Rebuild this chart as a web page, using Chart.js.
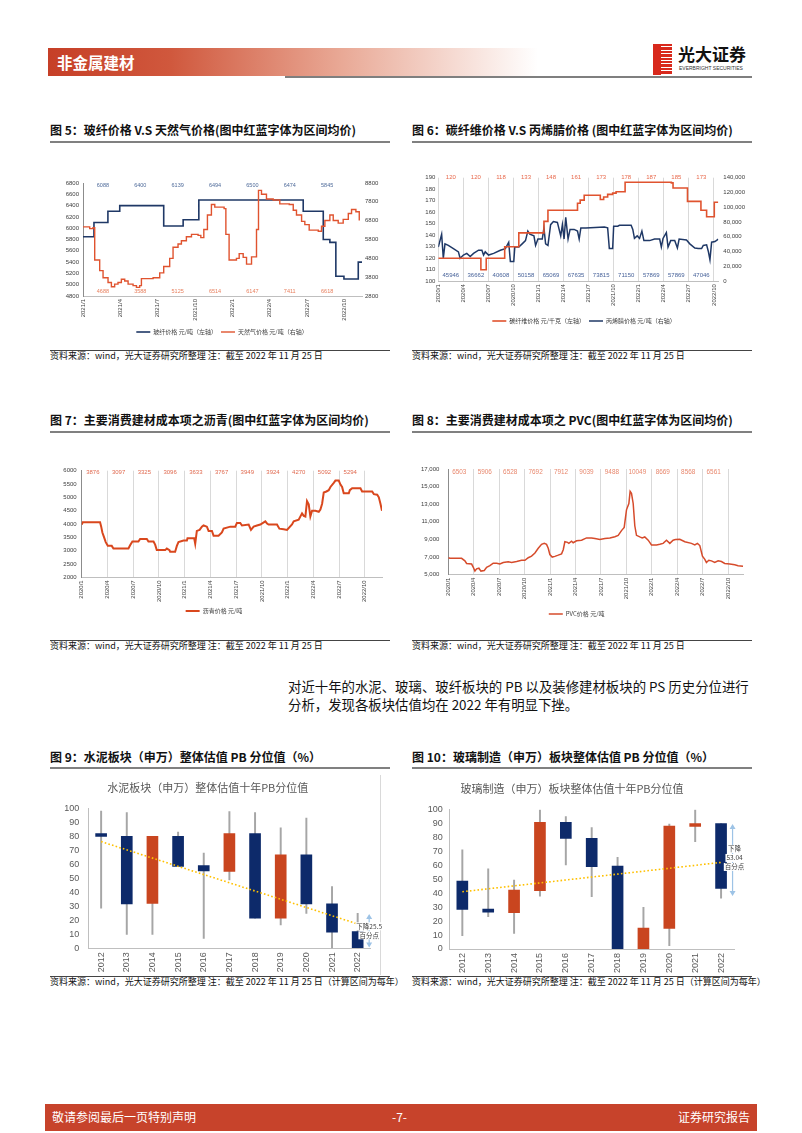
<!DOCTYPE html>
<html>
<head>
<meta charset="utf-8">
<script src="https://cdn.jsdelivr.net/npm/chart.js@4.4.0/dist/chart.umd.min.js"></script>
<style>
  body { margin: 0; width: 802px; height: 1133px; position: relative; background: #fff; overflow: hidden;
         font-family: "Noto Sans CJK SC", sans-serif; color: #111; }
  .abs { position: absolute; }
  .ftitle { font-size: 12px; font-weight: bold; line-height: 16px; white-space: nowrap; }
  .uline { height: 1.5px; background: #808080; }
  .sline { height: 1px; background: #444; }
  .src { font-size: 9px; line-height: 12px; white-space: nowrap; color: #111; }
  canvas { position: absolute; }
</style>
</head>
<body>
<!-- header -->
<div class="abs" style="left:48px;top:48px;width:490px;height:28px;background:linear-gradient(90deg,#c63f27 0%,#d0583d 25%,#e9a996 60%,#fff 100%)"></div>
<div class="abs" style="left:57px;top:51px;font-size:15.5px;font-weight:bold;color:#fff;line-height:22px">非金属建材</div>
<div class="abs" style="left:285px;top:76px;width:467px;height:2px;background:#7f7f7f"></div>
<div class="abs" style="left:653px;top:44px;width:19px;height:31px;background:repeating-linear-gradient(180deg,#d8291c 0 2.4px,#fff 2.4px 3.4px)"></div>
<div class="abs" style="left:653px;top:44px;width:8px;height:31px;background:#d8291c"></div>
<div class="abs" style="left:678px;top:43px;font-size:17px;font-weight:bold;line-height:22px;color:#111">光大证券</div>
<div class="abs" style="left:679px;top:65px;font-size:5px;line-height:6px;color:#333;font-family:'Liberation Sans'">EVERBRIGHT SECURITIES</div>

<!-- figure titles -->
<div class="abs ftitle" style="left:50px;top:122px">图 5：玻纤价格 V.S 天然气价格(图中红蓝字体为区间均价)</div>
<div class="abs uline" style="left:50px;top:141px;width:340px"></div>
<div class="abs ftitle" style="left:412px;top:122px">图 6：碳纤维价格 V.S 丙烯腈价格 (图中红蓝字体为区间均价)</div>
<div class="abs uline" style="left:412px;top:141px;width:340px"></div>

<div class="abs ftitle" style="left:50px;top:412px">图 7：主要消费建材成本项之沥青(图中红蓝字体为区间均价)</div>
<div class="abs uline" style="left:50px;top:431px;width:340px"></div>
<div class="abs ftitle" style="left:412px;top:412px">图 8：主要消费建材成本项之 PVC(图中红蓝字体为区间均价)</div>
<div class="abs uline" style="left:412px;top:431px;width:340px"></div>

<div class="abs ftitle" style="left:50px;top:749px">图 9：水泥板块（申万）整体估值 PB 分位值（%）</div>
<div class="abs uline" style="left:50px;top:767px;width:340px"></div>
<div class="abs ftitle" style="left:412px;top:749px">图 10：玻璃制造（申万）板块整体估值 PB 分位值（%）</div>
<div class="abs uline" style="left:412px;top:767px;width:340px"></div>

<!-- sources -->
<div class="abs sline" style="left:50px;top:350px;width:340px"></div>
<div class="abs src" style="left:50px;top:350px">资料来源：wind，光大证券研究所整理 注：截至 2022 年 11 月 25 日</div>
<div class="abs sline" style="left:412px;top:350px;width:340px"></div>
<div class="abs src" style="left:412px;top:350px">资料来源：wind，光大证券研究所整理 注：截至 2022 年 11 月 25 日</div>
<div class="abs sline" style="left:50px;top:640px;width:340px"></div>
<div class="abs src" style="left:50px;top:640px">资料来源：wind，光大证券研究所整理 注：截至 2022 年 11 月 25 日</div>
<div class="abs sline" style="left:412px;top:640px;width:340px"></div>
<div class="abs src" style="left:412px;top:640px">资料来源：wind，光大证券研究所整理 注：截至 2022 年 11 月 25 日</div>
<div class="abs sline" style="left:50px;top:976px;width:340px"></div>
<div class="abs src" style="left:50px;top:976px">资料来源：wind，光大证券研究所整理 注：截至 2022 年 11 月 25 日（计算区间为每年）</div>
<div class="abs sline" style="left:412px;top:976px;width:340px"></div>
<div class="abs src" style="left:412px;top:976px">资料来源：wind，光大证券研究所整理 注：截至 2022 年 11 月 25 日（计算区间为每年）</div>

<!-- paragraph -->
<div class="abs" style="left:288px;top:677px;font-size:13.4px;line-height:18px;color:#111;white-space:nowrap">对近十年的水泥、玻璃、玻纤板块的 PB 以及装修建材板块的 PS 历史分位进行<br>分析，发现各板块估值均在 2022 年有明显下挫。</div>

<!-- chart frame of fig 9 -->
<div class="abs" style="left:380px;top:775px;width:1px;height:200px;background:#d9d9d9"></div>

<canvas id="c5" width="352" height="178" style="left:46px;top:172px"></canvas>
<canvas id="c6" width="348" height="173" style="left:410px;top:165px"></canvas>
<canvas id="c7" width="345" height="175" style="left:46px;top:455px"></canvas>
<canvas id="c8" width="348" height="175" style="left:410px;top:455px"></canvas>
<canvas id="c9" width="338" height="200" style="left:45px;top:775px"></canvas>
<canvas id="c10" width="340" height="200" style="left:410px;top:775px"></canvas>

<!-- footer -->
<div class="abs" style="left:45px;top:1104px;width:712px;height:27px;background:#c7432b"></div>
<div class="abs" style="left:52px;top:1108px;font-size:12px;line-height:18px;color:#fff">敬请参阅最后一页特别声明</div>
<div class="abs" style="left:392px;top:1108px;font-size:12px;line-height:18px;color:#fff">-7-</div>
<div class="abs" style="left:678px;top:1108px;font-size:12px;line-height:18px;color:#fff">证券研究报告</div>

<script>
// ---------- data: 图5 玻纤 vs 天然气 (x = months since 2021/1) ----------
const fig5Ticks = ['2021/1', '2021/4', '2021/7', '2021/10', '2022/1', '2022/4', '2022/7', '2022/10'];
const gfMonth = [0, 0.88, 2.0, 2.95, 6.48, 8.04, 9.3, 17.68, 19.29, 19.82, 20.3, 20.95, 22.1, 22.4];
const gfPrice = [5850, 6100, 6300, 6400, 6040, 6150, 6500, 6300, 5800, 5750, 5150, 5100, 5400, 5400];
const gasMonth = [0, 0.54, 0.8, 0.94, 1.34, 1.61, 2.01, 2.28, 2.54, 2.81, 3.08, 3.35, 3.62, 4.02, 4.29, 4.55,
  4.69, 5.63, 6.16, 6.48, 6.96, 7.23, 7.63, 7.9, 8.3, 8.71, 9.24, 9.46, 9.7, 9.99, 10.31, 10.58, 11.33, 11.47,
  11.73, 12.32, 12.54, 12.86, 13.13, 13.39, 13.53, 13.8, 13.93, 14.09, 14.33, 14.73, 15.27, 15.8, 16.56, 16.88,
  17.14, 17.55, 17.81, 18.16, 18.89, 19.15, 19.42, 19.82, 20.09, 20.49, 20.89, 21.3, 21.56, 21.91, 22.18];
const gasPrice = [6470, 6380, 6420, 4710, 4150, 3770, 3520, 3290, 3430, 3520, 3690, 3600, 3430, 3350, 3260, 3350,
  3720, 3770, 4030, 4370, 4800, 5390, 5560, 5730, 5950, 6070, 6020, 5900, 6330, 7100, 7660, 7520, 7440, 6070,
  4710, 4800, 5050, 4850, 4490, 4490, 4880, 4880, 6330, 8410, 8200, 7950, 7900, 7690, 7660, 7350,
  7100, 6760, 6590, 6300, 6240, 6500, 6810, 7100, 6810, 6670, 6870, 7180, 7390, 7270, 6810];
const fig5GfAvg = ['6088', '6400', '6139', '6494', '6500', '6474', '5845'];
const fig5GasAvg = ['4688', '3588', '5125', '6514', '6147', '7411', '6618'];

// ---------- data: 图6 碳纤维 vs 丙烯腈 (x = months since 2020/1) ----------
const fig6Ticks = ['2020/1', '2020/4', '2020/7', '2020/10', '2021/1', '2021/4', '2021/7', '2021/10', '2022/1', '2022/4', '2022/7', '2022/10'];
const cfMonth = [0, 5.1, 5.74, 7.95, 9.64, 12.65, 13.13, 16.67, 16.99, 17.47, 19.4, 19.8, 20.28, 20.88, 21.29, 22.37, 27.91, 28.11, 29.84, 31.45, 32.13, 33.05, 33.53];
const cfPrice = [120, 110, 120, 130, 142, 152, 161.7, 167.8, 170.5, 174.7, 171, 173.2, 175.5, 176.6, 177.8, 186, 185.5, 181, 169.4, 161.7, 156, 168.6, 168.6];
const acnMonth = [0, 0.4, 0.6, 0.8, 1.2, 1.81, 2.41, 2.61, 3.01, 3.41, 3.82, 4.22, 4.82, 5.22, 5.42, 5.62, 6.02, 6.63,
  7.43, 8.03, 8.43, 8.63, 9.04, 9.16, 9.64, 10.04, 10.44, 10.72, 10.96, 11.45, 11.65, 11.93, 12.45, 12.65, 12.85,
  13.13, 13.45, 13.78, 14.26, 14.66, 14.86, 15.06, 15.26, 15.54, 15.78, 16.27, 16.67, 16.87, 17.07, 17.67, 19.88,
  20.28, 20.48, 20.88, 21.0, 21.49, 21.69, 23.09, 23.29, 23.49, 23.82, 24.1, 24.38, 24.62, 25.3, 25.9, 26.51,
  26.71, 26.91, 27.31, 27.51, 27.83, 28.31, 28.63, 28.84, 29.72, 30.12, 30.72, 31.12, 31.53, 31.73, 32.13, 32.33,
  32.53, 32.73, 33.13, 33.53];
const acnPrice = [46200, 63500, 31100, 50500, 48400, 44100, 39700, 31100, 35400, 37600, 33300, 37600, 41900, 41900,
  35400, 39700, 35400, 37600, 41900, 44100, 52700, 26800, 26800, 46200, 46200, 50500, 54900, 67800, 63500, 61300,
  48400, 57000, 57000, 72100, 50500, 48400, 76500, 80800, 79500, 61300, 76500, 57000, 86400, 57000, 70000, 70000,
  67800, 57000, 72100, 72100, 73400, 72100, 44100, 44100, 74300, 74300, 75600, 75600, 70000, 57900, 61300, 57900,
  67800, 54900, 54900, 57000, 57000, 46200, 57900, 65700, 46200, 54900, 54900, 44900, 57000, 55700, 50500, 44900,
  44100, 44100, 48400, 49200, 40600, 28900, 52700, 53600, 57000];
const fig6CfAvg = ['120', '120', '118', '133', '148', '161', '173', '178', '187', '185', '173'];
const fig6AcnAvg = ['45946', '36662', '40608', '50158', '65069', '67635', '73815', '71150', '57869', '57869', '47046'];

// ---------- data: 图7 沥青 ----------
const fig7Ticks = fig6Ticks;
const asphaltMonth = [0, 0.12, 2.14, 2.26, 2.41, 2.61, 2.8, 3.04, 3.5, 3.7, 5.45, 5.64, 5.91, 6.61, 6.81, 7.59, 7.78,
  8.37, 8.56, 8.75, 9.73, 9.92, 10.23, 10.31, 10.89, 11.09, 11.28, 11.87, 12.26, 12.33, 13.11, 13.23, 13.42, 13.74,
  14.01, 14.2, 14.59, 14.79, 15.18, 15.37, 15.95, 16.34, 16.54, 17.32, 17.9, 18.09, 18.48, 18.68, 19.46, 19.73,
  20.04, 20.43, 20.82, 21.4, 21.6, 21.79, 22.76, 23.04, 23.54, 23.93, 24.51, 24.71, 25.29, 25.68, 25.88, 26.07,
  26.26, 26.46, 26.65, 26.85, 27.24, 27.63, 27.82, 28.02, 28.21, 28.52, 28.79, 28.99, 29.38, 29.57, 29.96, 30.16,
  30.35, 30.54, 31.13, 31.25, 31.52, 32.49, 32.68, 33.85, 34.05, 34.44, 34.63, 34.82, 35.0];
const asphaltPrice = [3980, 4065, 4065, 3920, 3680, 3500, 3320, 3180, 3180, 3080, 3080, 3200, 3345, 3345, 3440, 3440,
  3345, 3345, 3225, 3020, 3020, 3080, 3020, 2960, 2960, 3180, 3320, 3380, 3380, 3465, 3465, 3260, 3740, 3780, 3900,
  3945, 3900, 3740, 3740, 3560, 3560, 3680, 3825, 3900, 3900, 4040, 4040, 3945, 3980, 3780, 3900, 3945, 3980, 4100,
  4020, 3980, 3980, 3825, 3800, 3780, 3980, 4100, 4160, 4400, 4305, 4280, 4860, 4740, 4280, 4500, 4500, 4460, 4545,
  4760, 5180, 5220, 5270, 5390, 5545, 5630, 5630, 5480, 5390, 5150, 5150, 5270, 5340, 5340, 5220, 5220, 5120, 5100,
  5000, 4760, 4500];
const fig7Avg = ['3876', '3097', '3325', '3096', '3633', '3767', '3949', '3924', '4270', '5092', '5294'];

// ---------- data: 图8 PVC ----------
const fig8Ticks = fig6Ticks;
const pvcMonth = [0, 0.2, 1.57, 1.96, 2.16, 2.75, 2.95, 3.14, 3.34, 3.61, 3.85, 4.24, 4.52, 4.91, 5.3, 5.7, 6.09, 6.48,
  7.07, 7.47, 8.06, 8.64, 9.04, 9.43, 9.82, 10.22, 10.61, 11.0, 11.32, 11.59, 11.79, 11.98, 12.26, 12.57, 12.97,
  13.36, 13.56, 13.75, 14.07, 14.22, 14.54, 14.73, 15.13, 15.72, 16.31, 16.9, 17.29, 17.88, 18.47, 19.06, 19.65,
  20.04, 20.43, 20.75, 21.02, 21.3, 21.45, 21.61, 21.81, 22.0, 22.2, 22.59, 22.87, 23.18, 23.58, 23.97, 24.56,
  24.95, 25.34, 25.74, 26.13, 26.52, 26.8, 27.31, 27.9, 28.68, 29.08, 29.39, 29.67, 29.98, 30.26, 30.45, 30.73,
  31.04, 31.43, 31.83, 32.22, 32.61, 33.2, 33.79, 34.18, 34.77];
const pvcPrice = [6920, 6850, 6850, 6560, 6270, 6200, 5830, 5400, 5650, 5725, 5400, 5470, 5830, 6015, 6300, 6300, 6200,
  6380, 6450, 6380, 6490, 6630, 6630, 6920, 7100, 7460, 8000, 8440, 8550, 8440, 8000, 7280, 6990, 7070, 7210, 7360,
  7830, 8730, 8660, 8550, 8800, 8620, 8840, 8910, 9170, 9170, 9100, 8990, 9100, 9170, 9310, 9460, 10000, 10360,
  12360, 13080, 14460, 14240, 13080, 10550, 9460, 9280, 9170, 9280, 8910, 8370, 8370, 8440, 8550, 8910, 8550, 8910,
  8990, 9020, 8730, 8550, 8370, 8550, 8300, 7100, 6740, 6380, 6630, 6560, 6380, 6560, 6490, 6270, 6200, 6120, 6015,
  5940];
const fig8Avg = ['6503', '5906', '6528', '7692', '7912', '9039', '9488', '10049', '8669', '8568', '6561'];

// ---------- data: 图9 / 图10 PB 分位值 ----------
const pbYears = ['2012', '2013', '2014', '2015', '2016', '2017', '2018', '2019', '2020', '2021', '2022'];
const cementOpen = [82, 80, 32, 80, 59, 55, 82, 21.5, 66.7, 31.7, 12];
const cementClose = [80, 31.7, 80, 58.5, 55.2, 82, 21.5, 66.7, 31.7, 11.5, 0.5];
const cementHigh = [98, 97, 80, 83, 68, 97.6, 97, 86, 93, 44, 25];
const cementLow = [28.6, 10, 10, 58.5, 7, 48.8, 21.5, 16.7, 25, 0, 0];
const cementTrend = [76.2, 17.4];
const cementDrop = [24.5, 0.5];
const cementNote = ['下降25.5', '百分点'];

const glassOpen = [48.7, 28.6, 26, 41.8, 90.7, 79.2, 59.4, 0, 14.8, 87.8, 89.7];
const glassClose = [28.4, 26.3, 42.2, 90.7, 79.2, 58.9, 0, 15, 88, 89.7, 43.4];
const glassHigh = [70.9, 57.3, 49.4, 99.5, 94.7, 86.9, 65.6, 29.8, 89.5, 99.5, 89.7];
const glassLow = [9.5, 23.2, 11.2, 37.9, 60.1, 37.5, 0, 0, 2.4, 76.8, 36.3];
const glassTrend = [41, 62];
const glassDrop = [89.5, 38];
const glassNote = ['下降', '53.04', '百分点'];

// ---------- common ----------
const CJK = '"Noto Sans CJK SC", sans-serif';
const NUM = '"Liberation Sans", sans-serif';
const NAVY = '#1f3866';
const RED = '#e0532f';
Chart.defaults.animation = false;
Chart.defaults.font.family = NUM;
Chart.defaults.color = '#404040';
Chart.defaults.plugins.tooltip.enabled = false;

const pts = (xs, ys) => xs.map((x, i) => ({ x, y: ys[i] }));
const plain = (v) => String(v);
const comma = (v) => Number(v).toLocaleString('en-US');

// interval average labels written along the top / bottom of the plot
const intervalLabels = {
  id: 'intervalLabels',
  afterDatasetsDraw(chart, args, opts) {
    const { ctx, chartArea } = chart;
    const xs = chart.scales.x;
    opts.rows.forEach((row) => {
      ctx.save();
      ctx.font = row.size + 'px ' + NUM;
      ctx.fillStyle = row.color;
      ctx.textAlign = 'center';
      ctx.textBaseline = 'middle';
      row.values.forEach((v, i) => {
        const x = xs.getPixelForValue(i * 3 + opts.offset);
        const y = row.top ? chartArea.top + row.dy : chartArea.bottom - row.dy;
        ctx.fillText(v, x, y);
      });
      ctx.restore();
    });
  }
};

// double arrow with note on the right of the last candle
const arrowNote = {
  id: 'arrowNote',
  afterDatasetsDraw(chart, args, o) {
    const { ctx } = chart;
    const x = chart.scales.x.getPixelForValue(chart.data.labels.length - 1) + o.dx;
    const y1 = chart.scales.y.getPixelForValue(o.range[0]);
    const y2 = chart.scales.y.getPixelForValue(o.range[1]);
    ctx.save();
    ctx.strokeStyle = '#9dc3e6';
    ctx.fillStyle = '#9dc3e6';
    ctx.lineWidth = 1.2;
    ctx.beginPath();
    ctx.moveTo(x, y1 + 3);
    ctx.lineTo(x, y2 - 3);
    ctx.stroke();
    ctx.beginPath();
    ctx.moveTo(x, y1); ctx.lineTo(x - 3, y1 + 5); ctx.lineTo(x + 3, y1 + 5); ctx.closePath();
    ctx.moveTo(x, y2); ctx.lineTo(x - 3, y2 - 5); ctx.lineTo(x + 3, y2 - 5); ctx.closePath();
    ctx.fill();
    const mid = (y1 + y2) / 2 + o.dy;
    ctx.font = '6.5px ' + CJK;
    ctx.textAlign = 'center';
    ctx.textBaseline = 'middle';
    const n = o.lines.length;
    o.lines.forEach((t, i) => {
      const ty = mid + (i - (n - 1) / 2) * 9;
      const w = ctx.measureText(t).width;
      ctx.fillStyle = '#fff';
      ctx.fillRect(x + o.tx - w / 2 - 1, ty - 4, w + 2, 8);
      ctx.fillStyle = '#404040';
      ctx.fillText(t, x + o.tx, ty);
    });
    ctx.restore();
  }
};

const legendOpts = {
  position: 'bottom',
  labels: {
    usePointStyle: true, pointStyle: 'line', pointStyleWidth: 14, boxHeight: 6,
    padding: 4, font: { size: 6, family: CJK }, color: '#404040',
    sort: (a, b) => a.datasetIndex - b.datasetIndex
  }
};

function timeX(max, ticks, height, grid) {
  return {
    type: 'linear', min: 0, max: max,
    grid: { display: grid, color: '#d9d9d9', drawTicks: false },
    border: { display: true, color: '#bfbfbf' },
    ticks: {
      stepSize: 3, includeBounds: false, autoSkip: false, minRotation: 90, maxRotation: 90,
      padding: 3, font: { size: 6 }, color: '#404040',
      callback: (v) => ticks[v / 3] ?? ''
    },
    afterFit: (s) => { s.height = height; }
  };
}

function valueY(pos, min, max, step, width, pad, fmt, border) {
  return {
    position: pos, min: min, max: max,
    grid: { display: false, drawTicks: false },
    border: { display: border, color: '#8c8c8c' },
    ticks: { stepSize: step, padding: pad, font: { size: 6 }, color: '#404040', callback: fmt },
    afterFit: (s) => { s.width = width; }
  };
}

// ---------------- 图5 ----------------
new Chart(document.getElementById('c5'), {
  type: 'line',
  data: {
    datasets: [
      { label: '玻纤价格 元/吨（左轴）', data: pts(gfMonth, gfPrice), yAxisID: 'y', stepped: 'before',
        borderColor: NAVY, backgroundColor: NAVY, borderWidth: 1.6, pointRadius: 0, order: 2 },
      { label: '天然气价格 元/吨（右轴）', data: pts(gasMonth, gasPrice), yAxisID: 'y1', stepped: 'before',
        borderColor: RED, backgroundColor: RED, borderWidth: 1.4, pointRadius: 0, order: 1 }
    ]
  },
  options: {
    responsive: false,
    layout: { padding: { top: 11, bottom: 5 } },
    scales: {
      x: timeX(22.4, fig5Ticks, 29, false),
      y: valueY('left', 4800, 6800, 200, 37, 4, plain, true),
      y1: valueY('right', 2800, 8800, 1000, 36, 3, plain, false)
    },
    plugins: {
      legend: legendOpts,
      intervalLabels: {
        offset: 1.6,
        rows: [
          { values: fig5GfAvg, color: '#4f6b9a', top: true, dy: 2, size: 5.5 },
          { values: fig5GasAvg, color: '#e8805f', top: false, dy: 5, size: 5.5 }
        ]
      }
    }
  },
  plugins: [intervalLabels]
});

// ---------------- 图6 ----------------
new Chart(document.getElementById('c6'), {
  type: 'line',
  data: {
    datasets: [
      { label: '碳纤维价格 元/千克（左轴）', data: pts(cfMonth, cfPrice), yAxisID: 'y', stepped: 'before',
        borderColor: RED, backgroundColor: RED, borderWidth: 1.6, pointRadius: 0 },
      { label: '丙烯腈价格 元/吨（右轴）', data: pts(acnMonth, acnPrice), yAxisID: 'y1',
        borderColor: NAVY, backgroundColor: NAVY, borderWidth: 1.5, pointRadius: 0 }
    ]
  },
  options: {
    responsive: false,
    layout: { padding: { top: 12.7, bottom: 4 } },
    scales: {
      x: timeX(33.53, fig6Ticks, 32.8, true),
      y: valueY('left', 100, 190, 10, 28.3, 3, plain, false),
      y1: valueY('right', 0, 140000, 20000, 39.7, 5, comma, false)
    },
    plugins: {
      legend: legendOpts,
      intervalLabels: {
        offset: 1.5,
        rows: [
          { values: fig6CfAvg, color: '#e8694c', top: true, dy: 0, size: 6 },
          { values: fig6AcnAvg, color: '#48639a', top: false, dy: 6, size: 6 }
        ]
      }
    }
  },
  plugins: [intervalLabels]
});

// ---------------- 图7 ----------------
new Chart(document.getElementById('c7'), {
  type: 'line',
  data: {
    datasets: [
      { label: '沥青价格 元/吨', data: pts(asphaltMonth, asphaltPrice),
        borderColor: '#d9471d', backgroundColor: '#d9471d', borderWidth: 2, pointRadius: 0 }
    ]
  },
  options: {
    responsive: false,
    layout: { padding: { top: 15.7, bottom: 6, right: 9 } },
    scales: {
      x: timeX(35, fig7Ticks, 26.7, true),
      y: valueY('left', 2000, 6000, 500, 35.7, 5, plain, true)
    },
    plugins: {
      legend: legendOpts,
      intervalLabels: {
        offset: 1.3,
        rows: [{ values: fig7Avg, color: '#e06a50', top: true, dy: 2, size: 6 }]
      }
    }
  },
  plugins: [intervalLabels]
});

// ---------------- 图8 ----------------
new Chart(document.getElementById('c8'), {
  type: 'line',
  data: {
    datasets: [
      { label: 'PVC价格 元/吨', data: pts(pvcMonth, pvcPrice),
        borderColor: '#d64b2b', backgroundColor: '#d64b2b', borderWidth: 1.5, pointRadius: 0 }
    ]
  },
  options: {
    responsive: false,
    layout: { padding: { top: 14, bottom: 3, right: 14.7 } },
    scales: {
      x: timeX(34.8, fig8Ticks, 32.4, true),
      y: valueY('left', 5000, 17000, 2000, 38.3, 9, comma, true)
    },
    plugins: {
      legend: legendOpts,
      intervalLabels: {
        offset: 1.3,
        rows: [{ values: fig8Avg, color: '#e8886e', top: true, dy: 3, size: 6.4 }]
      }
    }
  },
  plugins: [intervalLabels]
});

// ---------------- 图9 / 图10 candles ----------------
function candleChart(id, title, open, close, high, low, trend, drop, note, pad, titlePad, dy, tx) {
  const boxes = pbYears.map((_, i) => [open[i], close[i]]);
  const colors = pbYears.map((_, i) => (close[i] < open[i] ? '#0d2a6a' : '#c9451f'));
  const whiskers = pbYears.map((_, i) => [low[i], high[i]]);
  const trendLine = pbYears.map((_, i) => (i === 0 ? trend[0] : i === pbYears.length - 1 ? trend[1] : null));
  return new Chart(document.getElementById(id), {
    type: 'bar',
    data: {
      labels: pbYears,
      datasets: [
        { type: 'line', data: trendLine, spanGaps: true, borderColor: '#ffc000', borderWidth: 1.6,
          borderDash: [1.6, 2.2], pointRadius: 0, order: 0 },
        { data: boxes, backgroundColor: colors, barThickness: 11, grouped: false, order: 1 },
        { data: whiskers, backgroundColor: '#a6a6a6', barThickness: 1.3, grouped: false, order: 2 }
      ]
    },
    options: {
      responsive: false,
      layout: { padding: pad },
      scales: {
        x: {
          grid: { display: false, drawTicks: false },
          border: { display: true, color: '#bfbfbf' },
          ticks: { minRotation: 90, maxRotation: 90, padding: 4, font: { size: 9 }, color: '#595959' },
          afterFit: (s) => { s.height = pad.xh; }
        },
        y: {
          min: 0, max: 100,
          grid: { display: false, drawTicks: false },
          border: { display: true, color: '#bfbfbf' },
          ticks: { stepSize: 10, padding: pad.yp, font: { size: 9 }, color: '#595959' },
          afterFit: (s) => { s.width = pad.yw; }
        }
      },
      plugins: {
        legend: { display: false },
        title: { display: true, text: title, color: '#595959', font: { size: 11, family: CJK, weight: 'normal' },
                 padding: titlePad },
        arrowNote: { range: drop, lines: note, dx: 11.5, dy: dy, tx: tx }
      }
    },
    plugins: [arrowNote]
  });
}

candleChart('c9', '水泥板块（申万）整体估值十年PB分位值', cementOpen, cementClose, cementHigh, cementLow,
  cementTrend, cementDrop, cementNote, { top: 0, right: 12.5, bottom: 0, left: 0, xh: 26.7, yw: 43.3, yp: 9 },
  { top: 6, bottom: 14.1 }, 0, 0);
candleChart('c10', '玻璃制造（申万）板块整体估值十年PB分位值', glassOpen, glassClose, glassHigh, glassLow,
  glassTrend, glassDrop, glassNote, { top: 0, right: 16, bottom: 0, left: 0, xh: 26, yw: 39.4, yp: 6.7 },
  { top: 7.4, bottom: 13.7 }, -2, 2);
</script>
</body>
</html>
